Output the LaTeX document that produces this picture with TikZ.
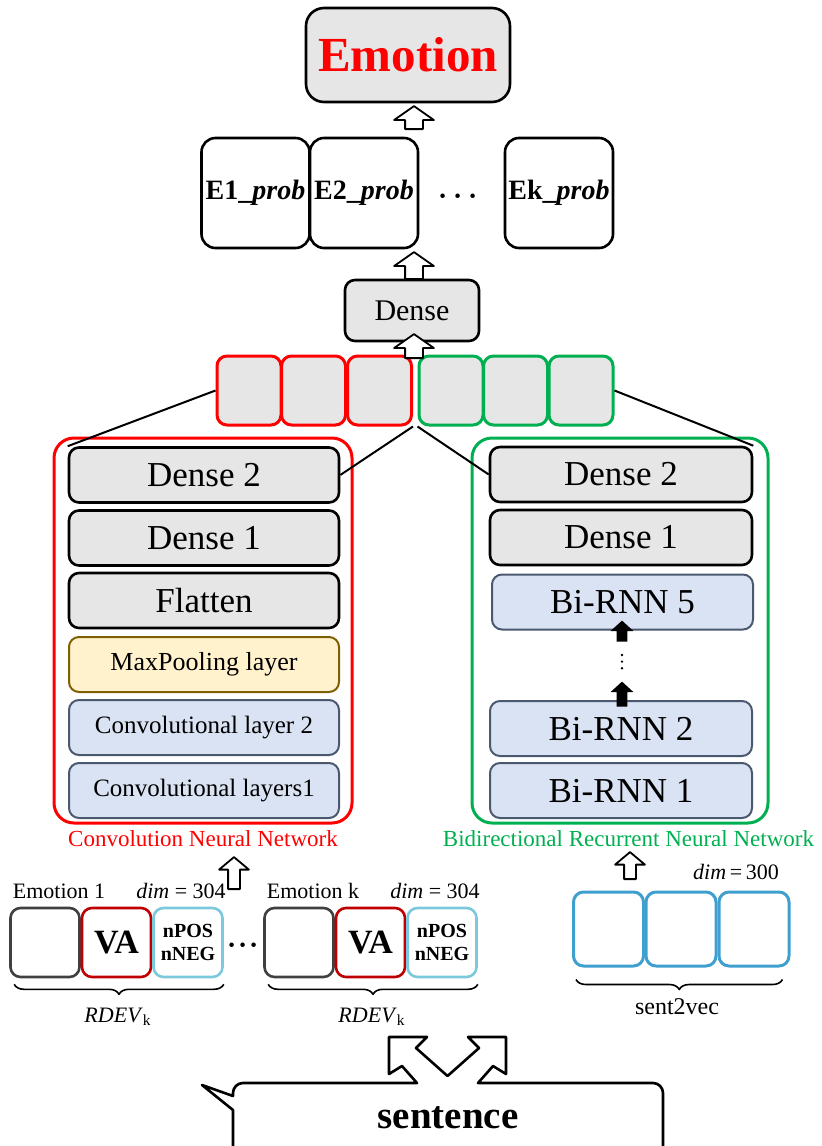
\documentclass[tikz,border=0pt]{standalone}
\usepackage{fontspec}
\setmainfont{Liberation Serif}
\usetikzlibrary{shapes.arrows,decorations.pathreplacing}
\definecolor{lgray}{HTML}{E6E6E6}
\definecolor{convfill}{HTML}{DAE3F3}
\definecolor{convline}{HTML}{4A5870}
\definecolor{poolfill}{HTML}{FFF2CC}
\definecolor{poolline}{HTML}{7F6000}
\definecolor{rnngreen}{HTML}{00B050}
\definecolor{vared}{HTML}{C00000}
\definecolor{poscyan}{HTML}{7CC8DC}
\definecolor{ingray}{HTML}{404040}
\definecolor{vecblue}{HTML}{3FA0D0}
\newcommand{\fsz}[1]{\fontsize{#1}{#1}\selectfont}
\begin{document}
\begin{tikzpicture}[x=0.5pt, y=-0.5pt, line join=round,
    box/.style={draw, rounded corners=5pt, line width=1.3pt, inner sep=0pt},
    layer/.style={box, fill=lgray, minimum width=135pt, minimum height=27.5pt, font=\fsz{17.5}},
    conv/.style={fill=convfill, draw=convline, line width=1pt, font=\fsz{12.5}},
    pool/.style={fill=poolfill, draw=poolline, line width=1pt, font=\fsz{13}},
    prob/.style={box, rounded corners=7pt, minimum width=54pt, minimum height=55pt, font=\bfseries\fsz{14}},
    cat/.style={box, fill=lgray, line width=1.5pt, minimum width=32pt, minimum height=34.5pt},
    netframe/.style={draw, rounded corners=10pt, line width=1.5pt, minimum width=149pt, minimum height=192.5pt},
    inbox/.style={box, minimum width=34.5pt, minimum height=34.5pt},
    hollow/.style={single arrow, draw, fill=white, line width=0.9pt, rotate=90, anchor=tail, inner xsep=0pt, inner ysep=4pt, single arrow head extend=5.5pt, single arrow tip angle=110},
    solidup/.style={single arrow, fill=black, rotate=90, anchor=tail, inner xsep=0pt, inner ysep=2.5pt, single arrow head extend=3pt, single arrow tip angle=95},
    lbl/.style={font=\fsz{11}},
    brace/.style={decorate, decoration={brace, mirror, amplitude=5pt}, line width=0.8pt}
  ]
\useasboundingbox (0,0) rectangle (822,1146);
\clip (0,0) rectangle (822,1146);
% output and merged vector
\node[box, fill=lgray, rounded corners=9pt, minimum width=102pt, minimum height=47pt, text=red, font=\bfseries\fsz{24.5}] (emo) at (408,55) {Emotion};
\foreach \n/\x/\t in {1/255.5/E1,2/364/E2,k/559/Ek}
  \node[prob] (p\n) at (\x,193) {\t\_\textit{prob}};
\node[font=\boldmath\fsz{14}] (pdots) at (458,197) {$\cdots$};
\node[box, fill=lgray, minimum width=67pt, minimum height=30.5pt, font=\fsz{15}] (dense) at (412,310.5) {Dense};
\foreach \i/\x in {1/249,2/313.5,3/379.5}
  \node[cat, draw=red] (r\i) at (\x,390.5) {};
\foreach \i/\x in {1/451,2/515.5,3/581}
  \node[cat, draw=rnngreen] (g\i) at (\x,390.5) {};
\node[hollow, minimum height=11.5pt] (a1) at (414,130) {};
\node[hollow, minimum height=13.5pt] (a2) at (414,280) {};
\node[hollow, minimum height=12pt] (a3) at (414,359) {};
% CNN
\node[netframe, draw=red] (cnn) at (203,630.5) {};
\node[layer] (cd2) at (204,475) {Dense 2};
\node[layer] (cd1) at (204,538) {Dense 1};
\node[layer] (cfl) at (204,600.5) {Flatten};
\node[layer, pool] (cmp) at (204,664.5) {MaxPooling layer};
\node[layer, conv] (cc2) at (204,727.5) {Convolutional layer 2};
\node[layer, conv] (cc1) at (204,790.5) {Convolutional layers1};
\node[red, font=\fsz{11.5}] (cnnlbl) at (203,839) {Convolution Neural Network};
% RNN
\node[netframe, draw=rnngreen, minimum width=148pt] (rnn) at (620,630.5) {};
\node[layer, minimum width=131pt] (rd2) at (621,474.5) {Dense 2};
\node[layer, minimum width=131pt] (rd1) at (621,537.5) {Dense 1};
\node[layer, conv, minimum width=130.5pt, font=\fsz{17.5}] (rb5) at (622.5,602) {Bi-RNN 5};
\node[layer, conv, minimum width=131pt, font=\fsz{17.5}] (rb2) at (621,728.5) {Bi-RNN 2};
\node[layer, conv, minimum width=131pt, font=\fsz{17.5}] (rb1) at (621,790.5) {Bi-RNN 1};
\node[rnngreen, font=\fsz{11.5}] (rnnlbl) at (628.5,839) {Bidirectional Recurrent Neural Network};
\node[solidup, minimum height=10.5pt] (u1) at (622,642) {};
\node[solidup, minimum height=12.5pt] (u2) at (622,707) {};
\draw[line width=1.3pt, line cap=round, dash pattern=on 0pt off 3.3pt] ([yshift=-6.5pt]u1.tail) -- ([yshift=3.5pt]u2.tip);
\draw[line width=1pt] (r1.west) -- (cd2.north west) (r3.south east) -- (cd2.east)
  (g1.south west) -- (rd2.west) (g3.east) -- (rd2.north east);
% inputs
\foreach \g/\dx in {1/0,k/254} {
  \node[inbox, draw=ingray] (em\g) at (45+\dx,942.5) {};
  \node[inbox, draw=vared, font=\bfseries\fsz{17}] (va\g) at (116.5+\dx,942.5) {VA};
  \node[inbox, draw=poscyan, align=center, font=\bfseries\fontsize{10}{11.5}\selectfont] (np\g) at (188+\dx,942.5) {nPOS\\nNEG};
  \node[lbl] (el\g) at (59+\dx,891) {Emotion \g};
  \node[lbl] (dl\g) at (181+\dx,891) {\textit{dim} = 304};
  \draw[brace] ([xshift=2.5pt,yshift=-3pt]em\g.south west) -- ([yshift=-3pt]np\g.south east);
  \node[lbl] (rdev\g) at (118+\dx,1017) {\textit{RDEV}\textsubscript{k}};
}
\node[font=\boldmath\fsz{15}] (idots) at (243,946) {$\cdot\!\cdot\!\cdot$};
\node[hollow, minimum height=16pt, inner ysep=2.5pt, single arrow head extend=4.5pt, single arrow tip angle=100] (a4) at (234,890) {};
\foreach \i/\x in {1/608.5,2/681,3/754}
  \node[box, draw=vecblue, line width=1.5pt, minimum width=35pt, minimum height=37pt] (s\i) at (\x,929) {};
\node[lbl] (dim300) at (736,872) {\textit{dim}\,=\,300};
\draw[brace] ([xshift=2pt,yshift=-6pt]s1.south west) -- ([xshift=-4pt,yshift=-6pt]s3.south east);
\node[font=\fsz{12}] (s2v) at (677,1007) {sent2vec};
\node[hollow, minimum height=13.5pt, inner ysep=2.5pt, single arrow head extend=4.5pt, single arrow tip angle=100] (a5) at (630,880) {};
% sentence bubble
\draw[line width=1.3pt] (233,1110) -- (202,1085) -- (233,1096) [rounded corners=5pt] -- (233,1083) -- (300,1083) [sharp corners]
  -- (417,1083) -- (402,1066) -- (389,1074) -- (389,1037) -- (427,1037) -- (416,1048) -- (447.5,1076)
  -- (479,1048) -- (468,1037) -- (506,1037) -- (506,1074) -- (493,1066) -- (478,1083)
  [rounded corners=5pt] -- (663,1083) -- (663,1180) -- (233,1180) [sharp corners] -- cycle;
\node[font=\bfseries\fsz{19.5}] (sent) at (448,1118) {sentence};
\end{tikzpicture}
\end{document}
